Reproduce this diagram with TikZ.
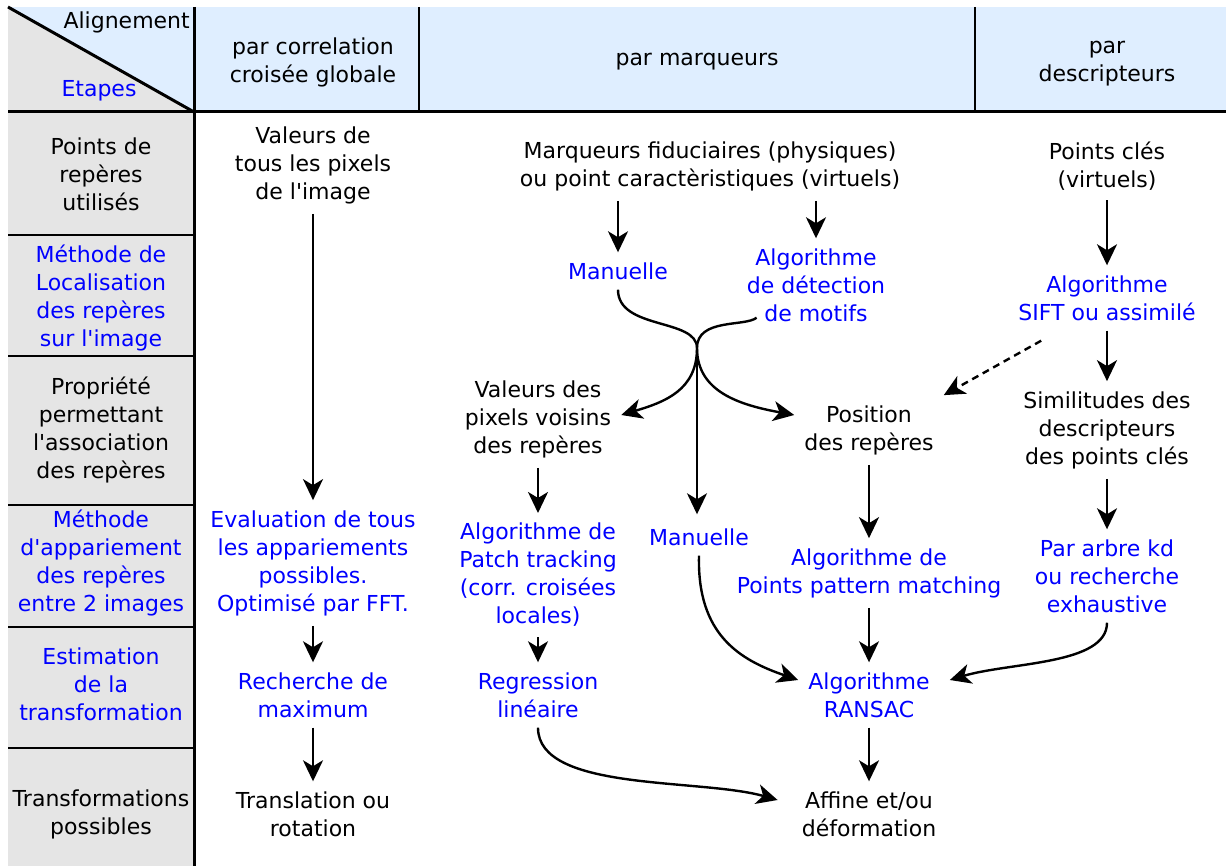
\documentclass[tikz,border=0pt]{standalone}
\usepackage{fontspec}
\setmainfont{DejaVu Sans}
\usetikzlibrary{arrows.meta}
\definecolor{hdrblue}{RGB}{223,238,255}
\definecolor{cellgray}{RGB}{229,229,229}
\tikzset{
  txt/.style={align=center,inner sep=10pt,font=\fontsize{22}{28}\selectfont},
  meth/.style={txt,text=blue},
  arr/.style={line width=2.4pt,-{Stealth[length=21pt,width=20pt,inset=6pt]}},
  curve/.style={line width=2.4pt},
  thinline/.style={line width=1.3pt},
  thickline/.style={line width=3pt}
}

\begin{document}
\begin{tikzpicture}[x=1pt,y=-1pt]
			\useasboundingbox (0,0) rectangle (1226,866);
			%Background
			\fill[hdrblue] (8,7) rectangle (1226,112);
			\fill[cellgray] (8,7)--(194,112)--(8,112)--cycle;
			\fill[cellgray] (8,112) rectangle (194,866);
			\draw[thinline] (419,7)--(419,112);
			\draw[thinline] (975,7)--(975,112);
			\foreach \y in {235,356,505,627,748}
				\draw[thinline] (8,\y)--(194,\y);
			\draw[thickline] (8,7)--(194,112);
			\draw[thickline] (194,7)--(194,866);
			\draw[thickline] (8,112)--(1226,112);
			%Header
			\node[txt,inner sep=0pt,anchor=base east] (alig) at (190,29) {Alignement};
			\node[meth,inner sep=0pt] (etap) at (99,91) {Etapes};
			\node[txt] (hcorr) at (313,62) {par correlation\\croisée globale};
			\node[txt] (hmarq) at (697,62) {par marqueurs};
			\node[txt] (hdesc) at (1107,64) {par\\descripteurs};
			%Steps
			\node[txt] (epoints) at (101,174) {Points de\\repères\\utilisés};
			\node[meth] (eloc) at (101,298) {Méthode de\\Localisation\\des repères\\sur l\textquotesingle image};
			\node[txt] (eprop) at (101,430) {Propriété\\permettant\\l\textquotesingle association\\des repères};
			\node[meth] (eapp) at (101,563) {Méthode\\d\textquotesingle appariement\\des repères\\entre 2 images};
			\node[meth] (eest) at (101,684) {Estimation\\de la\\transformation};
			\node[txt] (etrans) at (101,814) {Transformations\\possibles};
			%Global correlation
			\node[txt] (valpix) at (313,165) {Valeurs de\\tous les pixels\\de l\textquotesingle image};
			\node[meth] (evaltous) at (313,563) {Evaluation de tous\\les appariements\\possibles.\\Optimisé par FFT.};
			\node[meth] (rechmax) at (313,695) {Recherche de\\maximum};
			\node[txt] (transl) at (313,814) {Translation ou\\rotation};
			\draw[arr] (valpix.south)--(evaltous.north);
			\draw[arr] (evaltous.south)--(rechmax.north);
			\draw[arr] (rechmax.south)--(transl.north);
			%Markers
			\node[txt] (marqfid) at (710,166) {Marqueurs fiduciaires (physiques)\\ou point caractèristiques (virtuels)};
			\node[meth] (manloc) at (618,271) {Manuelle};
			\node[meth] (algodet) at (816,285) {Algorithme\\de détection\\de motifs};
			\node[txt] (valvois) at (538,419) {Valeurs des\\pixels voisins\\des repères};
			\node[txt] (position) at (869,430) {Position\\des repères};
			\node[meth] (patch) at (538,575) {Algorithme de\\Patch tracking\\(corr. croisées\\locales)};
			\node[meth] (regress) at (538,695) {Regression\\linéaire};
			\node[meth] (manapp) at (699,537) {Manuelle};
			\node[meth] (pointspat) at (869,573) {Algorithme de\\Points pattern matching};
			\node[meth] (ransac) at (869,695) {Algorithme\\RANSAC};
			\node[txt] (affine) at (869,814) {Affine et/ou\\déformation};
			\coordinate (merge) at (697,348);
			\draw[arr] (manloc.north |- marqfid.south)--(manloc.north);
			\draw[arr] (algodet.north |- marqfid.south)--(algodet.north);
			\draw[curve] (manloc.south) .. controls (618,330) and (697,318) .. (merge);
			\draw[curve] ([xshift=20pt,yshift=14pt]algodet.south west) .. controls (745,327) and (697,318) .. (merge);
			\draw[arr] (merge) .. controls (697,390) and (665,402) .. ([yshift=4pt]valvois.east);
			\draw[arr] (merge) .. controls (697,392) and (740,405) .. ([yshift=15pt]position.west);
			\draw[arr] (merge)--([yshift=4pt]merge |- manapp.north);
			\draw[arr] (valvois.south)--(patch.north);
			\draw[arr] (patch.south)--(regress.north);
			\draw[arr] (position.south)--(pointspat.north);
			\draw[arr] (pointspat.south)--(ransac.north);
			\draw[arr] (ransac.south)--(affine.north);
			\draw[arr] (manapp.south) .. controls (697,635) and (740,660) .. ([yshift=15pt]ransac.west);
			\draw[arr] (regress.south) .. controls (538,792) and (700,778) .. ([xshift=-14pt,yshift=14pt]affine.west);
			%Descriptors
			\node[txt] (ptscles) at (1107,166) {Points clés\\(virtuels)};
			\node[meth] (sift) at (1107,298) {Algorithme\\SIFT ou assimilé};
			\node[txt] (simil) at (1107,430) {Similitudes des\\descripteurs\\des points clés};
			\node[meth] (arbrekd) at (1107,576) {Par arbre kd\\ou recherche\\exhaustive};
			\draw[arr] (ptscles.south)--(sift.north);
			\draw[arr] (sift.south)--(simil.north);
			\draw[arr] (simil.south)--(arbrekd.north);
			\draw[arr,dash pattern=on 7pt off 5pt] ([xshift=33pt,yshift=-10pt]sift.south west)--(position.north east);
			\draw[arr] (arbrekd.south) .. controls (1107,665) and (1010,662) .. ([xshift=10pt,yshift=15pt]ransac.east);
\end{tikzpicture}
\end{document}
